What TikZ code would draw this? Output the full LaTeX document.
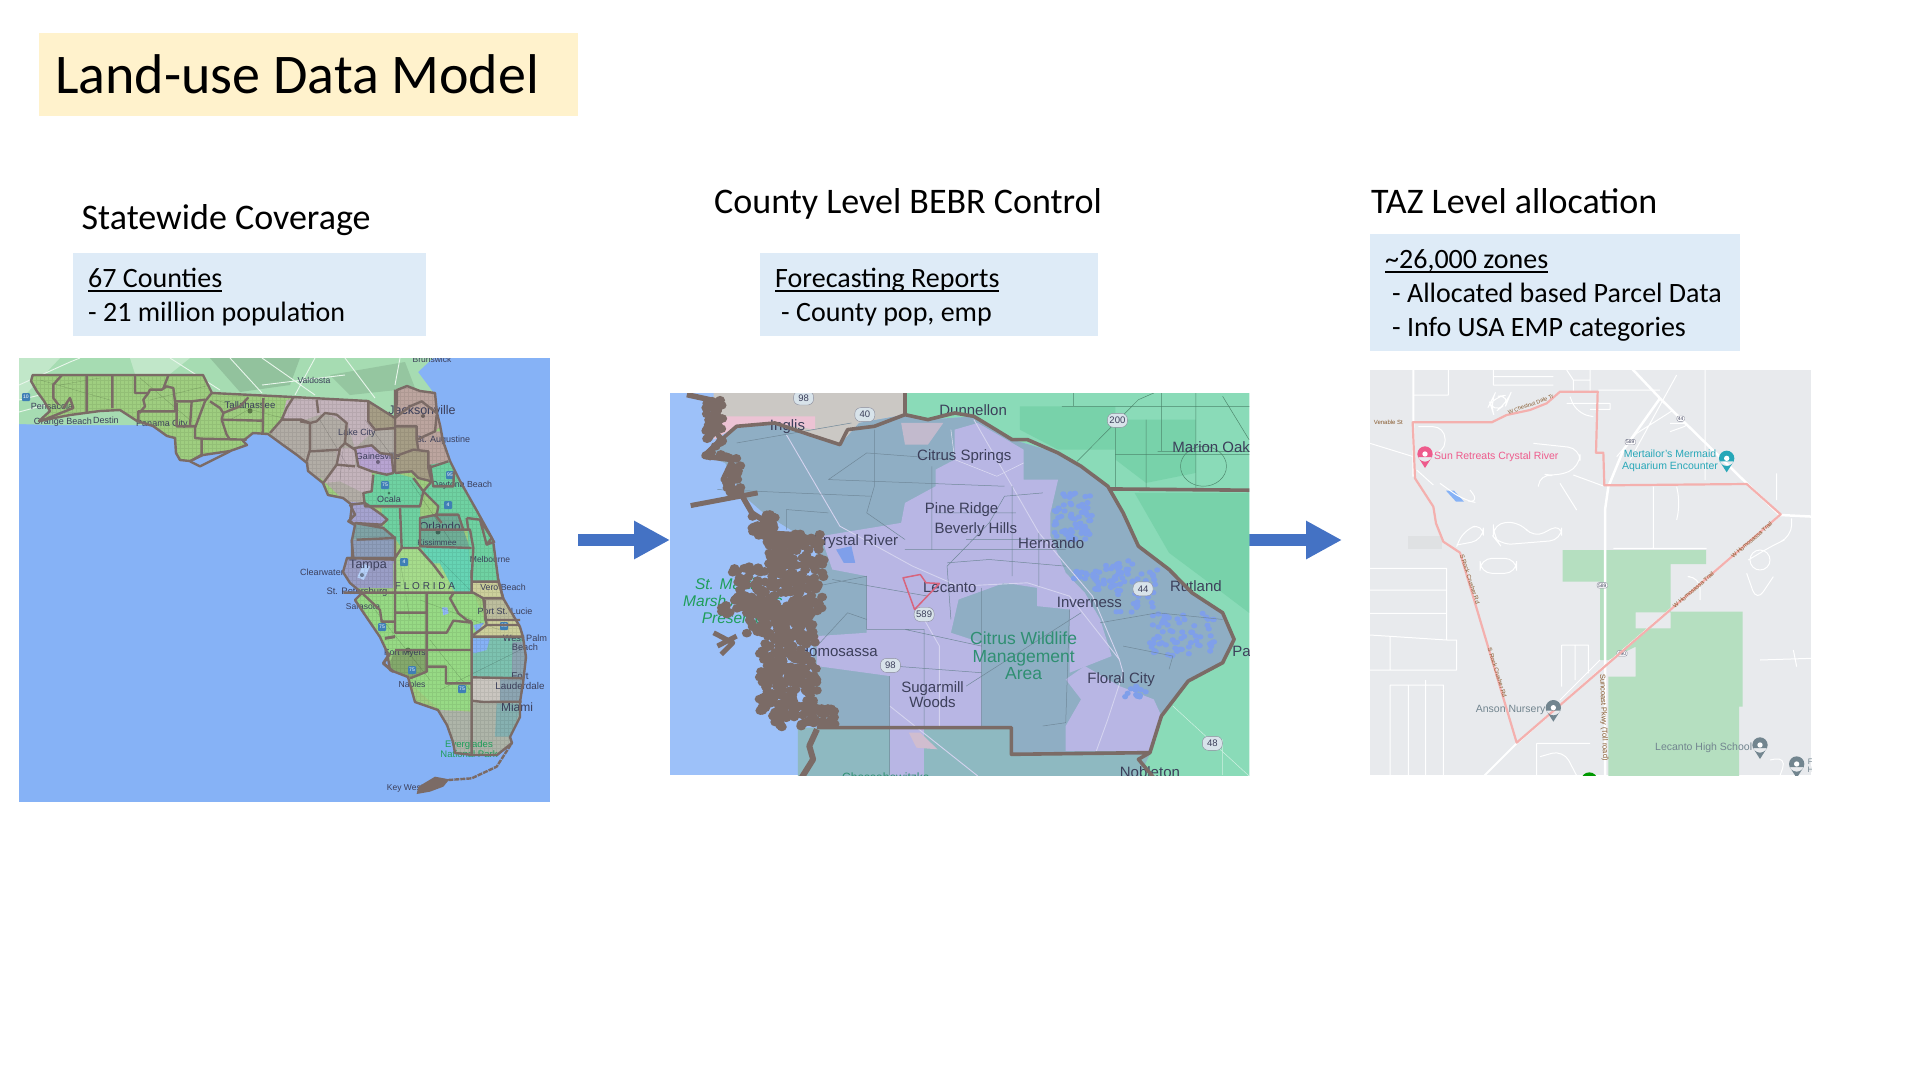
\documentclass[tikz,border=0pt]{standalone}
\usepackage{fontspec}
\setmainfont{Carlito}
\setsansfont{Liberation Sans}
\usepackage{xcolor}
\usepackage{tikz}
\usetikzlibrary{calc,arrows.meta,positioning}
\definecolor{titlebg}{HTML}{FFF2CC}
\definecolor{infobg}{HTML}{DEEBF7}
\definecolor{arrowblue}{HTML}{4472C4}
\definecolor{seablue}{HTML}{86B2F6}
\definecolor{seablueb}{HTML}{9DC1F9}
\definecolor{borderbrown}{HTML}{7B6B66}
\definecolor{gagreen}{HTML}{A6DCB2}
\definecolor{panhandle}{HTML}{9FCE80}
\definecolor{swgreen}{HTML}{97DA85}
\definecolor{polkgreen}{HTML}{A6DC8C}
\definecolor{ncgrey}{HTML}{B2ADA6}
\definecolor{ncpink}{HTML}{C4B4BC}
\definecolor{nebrown}{HTML}{A69E86}
\definecolor{nepink}{HTML}{BCA59F}
\definecolor{gainlav}{HTML}{B8A4D2}
\definecolor{midteal}{HTML}{6FD2A2}
\definecolor{osceteal}{HTML}{66D4B4}
\definecolor{orlteal}{HTML}{6FAE97}
\definecolor{citlav}{HTML}{A5A3CF}
\definecolor{herteal}{HTML}{7FA3A6}
\definecolor{pasblue}{HTML}{8E9EBB}
\definecolor{tamplav}{HTML}{9A9EC6}
\definecolor{lucolive}{HTML}{BDBE9E}
\definecolor{marolive}{HTML}{CDD09C}
\definecolor{palmteal}{HTML}{7DC2B0}
\definecolor{urbanblue}{HTML}{8CA5B2}
\definecolor{browgrey}{HTML}{CAC6C0}
\definecolor{dadegrey}{HTML}{AEB5A9}
\definecolor{leegreen}{HTML}{84A96C}
\definecolor{shieldblue}{HTML}{3F7FB5}
\definecolor{ctygreen}{HTML}{8ADBB8}
\definecolor{ctygreenb}{HTML}{78D2AA}
\definecolor{ctyteal}{HTML}{8FAEC4}
\definecolor{ctylav}{HTML}{B8B6E4}
\definecolor{ctypool}{HTML}{7F9FEA}
\definecolor{ctypink}{HTML}{ECC3D4}
\definecolor{ctygrey}{HTML}{CBC8C4}
\definecolor{wildgreen}{HTML}{2F8F72}
\definecolor{marshgreen}{HTML}{1F9E5A}
\definecolor{tazgrey}{HTML}{E8EAED}
\definecolor{tazgreen}{HTML}{B5DFC0}
\definecolor{tazred}{HTML}{F4B0AE}
\definecolor{tazpink}{HTML}{EE5B8C}
\definecolor{tazteal}{HTML}{27A7B8}
\definecolor{tazslate}{HTML}{72858F}
\definecolor{labdark}{HTML}{3C3F5A}
\newcommand{\ultext}[1]{\setbox0=\hbox{#1}\rlap{\rule[-4.5pt]{\wd0}{1.8pt}}\box0}
\newcommand{\mappin}[3]{%
  \fill[#3] (#1,#2) circle (23) (#1-21,#2+9) -- (#1,#2+42) -- (#1+21,#2+9) -- cycle;
  \fill[white] (#1,#2) circle (8);}
\def\flcoast{(32.7,375) -- (31,381) -- (36.7,391) -- (44,401) -- (50,411) -- (39,421) -- (70,415) -- (100,411)
  -- (120,410) -- (137,421) -- (153,426) -- (167,436) -- (175,438) -- (176,453) -- (180,460) -- (190,461)
  -- (203,455) -- (230,451) -- (247,445) -- (243,441) -- (253,433) -- (268,434) -- (283,445) -- (297,455)
  -- (307,463) -- (308,471) -- (323,483) -- (328,495) -- (343,498) -- (352,505) -- (350,521) -- (355,525)
  -- (352,540) -- (352,558) -- (347,558) -- (343,572) -- (350,583) -- (362,593) -- (355,600) -- (363,612)
  -- (380,637) -- (387,652) -- (390,670) -- (408,677) -- (415,702) -- (438,710) -- (447,725) -- (453,742)
  -- (455,753) -- (473,755) -- (497,755) -- (512,743) -- (510,737) -- (520,717) -- (520,702) -- (523,683)
  -- (526,657) -- (523,637) -- (520,627) -- (503,598) -- (498,578) -- (493,540) -- (477,511) -- (460,481)
  -- (450,461) -- (443,441) -- (440,425) -- (437,413) -- (435,393) -- (420,391) -- (407,386) -- (397,390)
  -- (397,401) -- (395,418) -- (368,401) -- (293,397) -- (212,393) -- (203,375)}
\tikzset{
  titlebox/.style={fill=titlebg,anchor=north west,inner xsep=16pt,inner ysep=0pt,text width=507pt,minimum height=83pt,align=flush left,font=\fontsize{56}{60}\selectfont},
  heading/.style={anchor=base west,inner sep=0pt,font=\fontsize{36}{40}\selectfont},
  infobox/.style={fill=infobg,anchor=north west,inner xsep=15pt,inner ysep=0pt,align=flush left,font=\fontsize{28}{34}\selectfont},
  panel/.style={anchor=north west,inner sep=0pt},
  blockarrow/.style={-{Triangle[length=36pt,width=36pt]},line width=12pt,arrowblue},
  county/.style={draw=borderbrown,line width=2.4pt,line join=round},
  crop/.style={shift={(#1)},scale=1/3},
  lab/.style={font=\sffamily\fontsize{#1}{#1}\selectfont,inner sep=0pt,text=labdark,align=center},
  shield/.style={fill=shieldblue,text=white,font=\sffamily\fontsize{5}{5}\selectfont,inner sep=1pt,minimum width=8pt,minimum height=8pt,rounded corners=1pt},
  hwshield/.style={draw=labdark!60,fill=white!65!ctyteal,rounded corners=6pt,font=\sffamily\fontsize{9.5}{9.5}\selectfont,text=labdark,inner sep=1pt,minimum width=20pt,minimum height=14pt},
  tazshield/.style={draw=labdark!60,fill=white,rounded corners=2pt,font=\sffamily\fontsize{5}{5}\selectfont,text=labdark,inner sep=1pt},
  tazroad/.style={draw=white,line width=#1,line join=round},
  tazroad/.default=1pt,
  ctyroad/.style={draw=#1,line width=.5pt},
  ctyroad/.default=ctyteal!78!black
}
\newcommand{\topline}{\rule{0pt}{34pt}}
\newcommand{\botline}[1]{\rule[-#1pt]{0pt}{#1pt}}
\begin{document}
\begin{tikzpicture}[x=1pt,y=-1pt]
\useasboundingbox (0,0) rectangle (1920,1080);
\node[titlebox] (title) at (39,33) {Land-use Data Model};
\node[heading] (statehead) at (81.5,229) {Statewide Coverage};
\node[heading] (countyhead) at (714,213) {County Level BEBR Control};
\node[heading] (tazhead) at (1371,213) {TAZ Level allocation};
\node[infobox,text width=323pt] (stateinfo) at (73,253) {\topline\ultext{67 Counties}\\- 21 million population\botline{15}};
\node[infobox,text width=308pt] (countyinfo) at (760,253) {\topline\ultext{Forecasting Reports}\\\hspace*{6pt}- County pop, emp\botline{15}};
\node[infobox,text width=340pt] (tazinfo) at (1370,234) {\topline\ultext{\textasciitilde 26,000 zones}\\\hspace*{7pt}- Allocated based Parcel Data\\\hspace*{7pt}- Info USA EMP categories\botline{15}};
\node[panel,fill=seablue,minimum width=531pt,minimum height=444pt] (statemap) at (19,358) {};
\node[panel,fill=seablueb,minimum width=579pt,minimum height=382pt] (countymap) at (670,393) {};
\node[panel,fill=tazgrey,minimum width=441pt,minimum height=405pt] (tazmap) at (1370,370) {};
\coordinate (arrowa) at (578,540);
\coordinate (arrowb) at (1342,540);
\draw[blockarrow] (arrowa) -- (countymap.west|-arrowa);
\draw[blockarrow] (countymap.east|-arrowb) -- (arrowb);

\begin{scope}
\clip (statemap.north west) rectangle (statemap.south east);
\fill[gagreen] (19,358) -- (433,358) -- (418,372) -- (433,392) -- (395,425) -- (50,425) -- (19,424) -- cycle;
\fill[gagreen!88!black] (210,358) -- (300,358) -- (290,385) -- (240,392) -- cycle;
\fill[gagreen!90!black] (330,375) -- (405,362) -- (415,388) -- (350,395) -- cycle;
\fill[gagreen!70!white] (19,358) -- (60,358) -- (25,395) -- (19,400) -- cycle;
\fill[gagreen!70!white] (130,358) -- (190,358) -- (170,374) -- (135,374) -- cycle;
\draw[white!75!gagreen,line width=.9pt] (19,385) -- (70,362) -- (80,358) (19,412) -- (45,405) (170,358) -- (220,390) (230,358) -- (262,393) (262,358) -- (315,395) (315,358) -- (295,395) (345,358) -- (375,398) (400,358) -- (395,385) (19,400) -- (40,395) (262,385) -- (345,375);
\fill[panhandle] \flcoast -- cycle;
\clip \flcoast -- cycle;
\begin{scope}[crop={20,358}]
\fill[ncgrey] (820,110) -- (900,110) -- (900,400) -- (860,340) -- (750,225) -- (785,185) -- cycle;
\fill[ncpink] (800,125) -- (900,125) -- (900,185) -- (785,185) -- cycle;
\end{scope}
\begin{scope}[crop={300,358}]
\fill[ncgrey] (0,115) -- (205,130) -- (285,180) -- (285,345) -- (215,340) -- (215,400) -- (190,405) -- (195,445) -- (150,445) -- (0,300) -- cycle;
\fill[ncpink] (0,120) -- (205,130) -- (205,190) -- (225,215) -- (165,270) -- (140,195) -- (75,165) -- (0,190) -- cycle;
\fill[ncpink] (110,270) -- (165,270) -- (165,325) -- (215,340) -- (215,400) -- (190,405) -- (120,370) -- (70,375) -- (110,320) -- cycle;
\fill[nebrown] (205,130) -- (285,180) -- (285,215) -- (225,215) -- (205,190) -- cycle;
\fill[nepink] (285,80) -- (410,100) -- (425,200) -- (405,220) -- (350,245) -- (350,205) -- (285,205) -- cycle;
\fill[nebrown] (285,205) -- (350,205) -- (350,245) -- (355,275) -- (385,280) -- (385,330) -- (395,370) -- (355,360) -- (335,340) -- (285,345) -- cycle;
\fill[nepink] (350,245) -- (405,220) -- (430,220) -- (455,310) -- (385,330) -- (385,280) -- (355,275) -- cycle;
\fill[gainlav] (165,270) -- (215,262) -- (240,285) -- (275,290) -- (280,345) -- (260,350) -- (215,340) -- (175,325) -- cycle;
\fill[midteal] (220,350) -- (285,345) -- (340,360) -- (370,400) -- (360,445) -- (195,445) -- (190,405) -- (215,400) -- cycle;
\fill[midteal] (390,320) -- (450,310) -- (490,370) -- (550,480) -- (490,515) -- (475,470) -- (405,470) -- (360,480) -- (410,470) -- (415,445) -- (370,400) -- (395,370) -- cycle;
\fill[midteal] (245,450) -- (360,445) -- (360,565) -- (305,570) -- (285,540) -- (250,510) -- (262,485) -- (245,470) -- cycle;
\fill[citlav] (130,430) -- (195,435) -- (245,470) -- (262,485) -- (245,500) -- (130,495) -- cycle;
\fill[herteal] (130,495) -- (245,500) -- (285,540) -- (130,545) -- cycle;
\fill[pasblue] (130,545) -- (285,540) -- (285,600) -- (130,600) -- cycle;
\fill[tamplav] (120,600) -- (285,605) -- (285,690) -- (120,690) -- cycle;
\fill[orlteal] (360,480) -- (405,470) -- (475,470) -- (490,515) -- (510,570) -- (360,565) -- cycle;
\fill[osceteal] (360,565) -- (515,570) -- (515,690) -- (430,660) -- (400,620) -- cycle;
\fill[midteal] (500,480) -- (550,480) -- (620,660) -- (515,690) -- cycle;
\fill[polkgreen] (285,600) -- (305,570) -- (355,570) -- (400,620) -- (430,670) -- (285,690) -- cycle;
\end{scope}
\begin{scope}[crop={320,570}]
\fill[polkgreen] (220,-20) -- (360,-20) -- (405,68) -- (220,68) -- cycle;
\fill[osceteal] (360,-20) -- (455,-20) -- (455,68) -- (405,68) -- cycle;
\fill[midteal] (455,-20) -- (525,-20) -- (535,35) -- (455,35) -- cycle;
\fill[marolive] (455,35) -- (535,35) -- (560,85) -- (490,85) -- (455,68) -- cycle;
\fill[swgreen] (70,68) -- (460,68) -- (500,165) -- (455,200) -- (455,420) -- (360,420) -- (260,330) -- (120,100) -- cycle;
\fill[leegreen] (225,240) -- (320,240) -- (320,305) -- (270,325) -- (200,300) -- cycle;
\fill[lucolive] (490,85) -- (560,85) -- (590,150) -- (500,150) -- cycle;
\fill[marolive] (500,150) -- (590,150) -- (620,200) -- (460,198) -- cycle;
\fill[palmteal] (455,200) -- (630,200) -- (630,325) -- (455,322) -- cycle;
\fill[urbanblue] (578,215) -- (630,215) -- (630,325) -- (575,325) -- cycle;
\fill[browgrey] (455,322) -- (630,325) -- (630,395) -- (455,395) -- cycle;
\fill[urbanblue] (540,325) -- (630,325) -- (630,395) -- (540,395) -- cycle;
\fill[dadegrey] (360,420) -- (455,425) -- (455,395) -- (620,395) -- (620,560) -- (380,560) -- cycle;
\fill[urbanblue!60!palmteal] (530,400) -- (610,400) -- (570,500) -- (525,500) -- cycle;
\fill[seablue] (455,205) -- (510,205) -- (500,240) -- (462,250) -- (455,240) -- cycle;
\fill[seablue] (460,165) -- (492,158) -- (470,190) -- cycle;
\fill[seablue!90!white] (366,112) -- (382,112) -- (386,130) -- (370,136) -- cycle;
\fill[white!40!seablue] (130,-20) -- (150,-10) -- (132,30) -- (112,22) -- cycle;
\end{scope}
\draw[step=4pt,black,opacity=.07,line width=.3pt] (19,358) grid (550,802);
\draw[black,opacity=.22,line width=.3pt] (40,380) -- (110,400) (140,378) -- (190,420) (215,400) -- (290,420) (320,420) -- (350,470) (365,420) -- (395,460) (410,480) -- (450,540) (440,560) -- (480,600) (375,610) -- (430,680) (420,600) -- (500,630) (440,690) -- (520,650) (60,385) -- (100,378) (150,400) -- (210,385) (230,420) -- (262,402) (340,480) -- (345,430) (400,560) -- (410,620) (430,640) -- (470,690);
\fill[black,opacity=.4] (250,411) circle (2.5) (423,416) circle (2) (378,462) circle (2) (438,532) circle (2.5) (389,493) circle (1.5) (408,650) circle (2.5) (362,575) circle (2);
\end{scope}

\begin{scope}
\clip (statemap.north west) rectangle (statemap.south east);
\foreach \nm/\px/\py/\sz/\txt in {labbrun/432/359/8.5/Brunswick,labvald/314/380/8.6/Valdosta,labpens/52/406/9/Pensacola,laborng/63/422/9/Orange Beach,labdest/106/420/9/Destin,labpana/162/424/9/Panama City,labtall/250/405/9.6/Tallahassee,labjack/422/410/12.5/Jacksonville,labaug/443/440/9/St. Augustine,lablake/357/433/9/Lake City,labgain/378/456/9/Gainesville,labdayt/462/485/8.8/Daytona Beach,labocal/389/499/9/Ocala,laborl/440/526/11.5/Orlando,labkiss/437/543/8/Kissimmee,labmelb/490/559/8.5/Melbourne,labtamp/368/565/12.5/Tampa,labclea/322/572/9/Clearwater,labpete/357/592/9.4/St. Petersburg,labsara/363/607/8.5/Sarasota,labflor/425/586/10/F L O R I D A,labvero/503/587/8.8/Vero Beach,labport/505/611/9/Port St. Lucie,labwest/525/643/9.2/{West Palm\\Beach},labmyer/405/653/8.7/Fort Myers,labnapl/412/685/8.6/Naples,labfort/520/681/9.8/{Fort\\Lauderdale},labmiam/517/707/12/Miami,labkeyw/405/788/8.5/Key West}
  \node[lab=\sz] (\nm) at (\px,\py) {\txt};
\node[lab=9.5,text=marshgreen] (labever) at (469,749) {Everglades\\National Park};
\foreach \nm/\px/\py/\txt in {shnw/26/397/10,shoc/385/485/75,shda/450/475/95,shpk/404/562/4,shsa/382/627/75,shfm/412/670/75,shal/462/689/75,shsl/504/626/95,shvo/448/505/4}
  \node[shield] (\nm) at (\px,\py) {\txt};
\draw[county] \flcoast -- cycle;
\begin{scope}[crop={20,358}]
\draw[county] (125,52) -- (100,80) -- (100,120) -- (115,140) (200,50) -- (200,165) (277,50) -- (277,150);
\draw[county] (345,50) -- (345,105) -- (385,105) -- (390,95) -- (425,95) -- (440,85) -- (460,90) -- (465,130) -- (465,160) -- (355,160) -- (355,190);
\draw[county] (385,105) -- (370,125) -- (375,145) -- (358,165) (445,52) -- (430,92) (465,130) -- (515,130) -- (555,125) (470,135) -- (470,205) -- (525,205);
\draw[county] (515,130) -- (510,205) (575,105) -- (555,130) -- (540,170) -- (525,210) -- (525,240) -- (545,242) -- (680,245) (545,242) -- (545,290) -- (520,305);
\draw[county] (570,130) -- (600,150) -- (610,165) -- (605,185) -- (725,188) (605,185) -- (620,230) -- (630,245) (685,118) -- (660,145) -- (610,165) (730,120) -- (728,225);
\draw[county] (820,118) -- (800,150) -- (785,185) -- (845,185) -- (870,195) -- (870,275) (785,185) -- (750,225);
\draw[county] (510,310) -- (540,325) -- (630,280) (130,150) -- (150,120) -- (160,150) -- (60,190);
\end{scope}
\begin{scope}[crop={300,358}]
\draw[county] (205,130) -- (205,190) -- (225,215) -- (285,210) (285,95) -- (285,345) (285,180) -- (330,145) -- (365,130) -- (410,165) (285,205) -- (350,205) -- (350,245) -- (405,220) -- (410,170);
\draw[county] (285,295) -- (340,275) -- (385,280) -- (385,330) (350,245) -- (355,275) (285,345) -- (335,340) -- (355,360) -- (395,370) -- (385,330) -- (445,310) (390,320) -- (400,385) -- (460,385) -- (462,340);
\draw[county] (370,400) -- (415,445) -- (410,470) -- (360,480) -- (360,565) -- (515,570) (370,400) -- (395,370) (220,350) -- (215,400) -- (190,405) -- (195,445) -- (360,445) -- (370,400) -- (340,360);
\draw[county] (165,270) -- (215,262) -- (240,285) -- (275,290) -- (280,345) -- (260,350) -- (215,340) -- (175,325) -- cycle;
\draw[county] (0,190) -- (30,195) -- (30,275) -- (20,310) (50,125) -- (55,165) (30,195) -- (50,190) -- (75,165) -- (110,170) -- (140,195) -- (135,255) -- (120,270) -- (110,320) -- (165,325) (30,280) -- (120,275) (135,255) -- (165,275) (110,320) -- (70,375);
\draw[county] (150,440) -- (195,435) -- (245,470) -- (262,485) -- (245,500) -- (165,495) -- (250,510) -- (285,540) -- (170,545) (285,535) -- (285,680) (155,545) -- (160,600) -- (285,600) (140,600) -- (285,605) (300,450) -- (305,570) -- (355,570) -- (400,620) -- (430,660) (285,600) -- (305,570);
\draw[county] (360,515) -- (490,515) (405,470) -- (475,470) -- (490,515) (405,470) -- (425,495) (490,515) -- (510,515) -- (520,570) -- (515,660) (500,480) -- (540,485) -- (575,540) -- (560,560) -- (585,550) (500,480) -- (505,515) (540,485) -- (560,560);
\draw[county] (150,440) -- (165,470) -- (145,490) -- (162,500);
\end{scope}
\begin{scope}[crop={320,570}]
\draw[county] (70,68) -- (460,68) -- (490,85) -- (550,85) (225,0) -- (225,190) (320,68) -- (320,305) -- (270,325) (225,128) -- (320,128) (225,188) -- (380,188) -- (400,152) -- (455,158);
\draw[county] (225,240) -- (455,240) (320,290) -- (378,290) -- (378,340) -- (455,340) (400,70) -- (390,85) -- (415,130) -- (440,150) -- (455,155) (455,155) -- (455,555) (455,200) -- (612,200) (460,195) -- (500,165) -- (600,165) (490,85) -- (500,165);
\draw[county] (455,0) -- (455,68) (455,35) -- (535,35) -- (550,85) (455,322) -- (608,325) (455,392) -- (490,396) -- (605,395) (125,68) -- (180,120) -- (185,155) -- (225,155) (495,90) -- (495,150) -- (600,150);
\draw[county,line width=3pt] (195,205) -- (225,200) (210,250) -- (190,280) -- (220,305);
\draw[county,dash pattern=on 5pt off 1pt] (385,630) -- (455,625) -- (530,590) -- (575,520);
\fill[borderbrown] (290,672) -- (295,650) -- (345,620) -- (388,628) -- (370,650) -- (330,665) -- cycle;
\end{scope}
\end{scope}

\begin{scope}
\clip (countymap.north west) rectangle (countymap.south east);
\begin{scope}[shift={(660.05,379.68)},xscale=.3827,yscale=.333]
\fill[ctygrey] (140,30) -- (640,30) -- (640,105) -- (520,130) -- (470,195) -- (300,130) -- (200,140) -- (140,180) -- cycle;
\fill[ctypink] (165,110) -- (405,110) -- (405,150) -- (300,130) -- (200,140) -- (140,180) -- cycle;
\fill[ctygreen] (640,30) -- (1545,30) -- (1545,1195) -- (1250,1195) -- (1280,1120) -- (1310,1010) -- (1380,905) -- (1470,850) -- (1500,780) -- (1470,700) -- (1390,640) -- (1330,570) -- (1250,500) -- (1210,400) -- (1170,320) -- (1040,220) -- (920,180) -- (820,110) -- (700,120) -- (640,105) -- cycle;
\fill[ctygreenb] (940,80) -- (1190,80) -- (1190,210) -- (1040,210) -- (940,150) -- cycle;
\fill[ctygreenb] (1190,120) -- (1400,120) -- (1400,280) -- (1270,310) -- (1190,240) -- cycle;
\fill[ctygreenb] (1240,340) -- (1539,340) -- (1539,700) -- (1470,640) -- (1330,520) -- cycle;
\draw[ctyroad=ctygreenb!65!black] (1050,80) -- (1540,80) (1190,120) -- (1190,325) (1270,120) -- (1270,325) (1400,40) -- (1400,325) (1300,215) -- (1540,215) (1190,225) -- (1540,225) (1080,40) -- (1080,80) (1310,40) -- (1310,215) (1470,50) -- (1539,180) (1090,245) -- (1250,60) -- (1290,40);
\draw[ctyroad=ctygreenb!65!black] (1420,260) circle (60);
\draw[ctyroad=white!60!ctygreen] (1340,980) -- (1539,1190) (1470,1080) -- (1470,1187);
\fill[ctyteal] (110,225) -- (200,140) -- (300,130) -- (470,195) -- (520,130) -- (640,105) -- (700,120) -- (820,110) -- (920,180) -- (1040,220) -- (1170,320) -- (1210,400) -- (1250,500) -- (1330,570) -- (1390,640) -- (1470,700) -- (1500,780) -- (1470,850) -- (1380,905) -- (1310,1010) -- (1280,1120) -- (920,1125) -- (920,1045) -- (410,1045) -- (400,900) -- (400,700) -- (410,500) -- (270,400) -- (210,340) -- (170,250) -- cycle;
\fill[ctylav] (770,150) -- (830,130) -- (950,210) -- (950,300) -- (1040,300) -- (1020,400) -- (1020,470) -- (1060,580) -- (1110,640) -- (1150,720) -- (1180,830) -- (1070,880) -- (1070,690) -- (985,680) -- (985,625) -- (900,610) -- (780,660) -- (760,760) -- (840,790) -- (840,1040) -- (600,1040) -- (600,890) -- (410,860) -- (410,770) -- (540,760) -- (540,590) -- (450,570) -- (420,470) -- (630,430) -- (640,370) -- (720,320) -- (720,270) -- (770,240) -- cycle;
\fill[ctylav] (1060,900) -- (1110,860) -- (1200,920) -- (1290,960) -- (1310,1010) -- (1280,1115) -- (1060,1115) -- (1060,1040) -- (1100,960) -- cycle;
\fill[ctypink!55!ctyteal] (630,130) -- (740,130) -- (700,195) -- (640,195) -- cycle;
\fill[ctygreen!25!ctyteal] (360,1045) -- (920,1045) -- (920,1125) -- (1280,1125) -- (1250,1195) -- (360,1195) -- cycle;
\fill[ctylav] (600,1045) -- (690,1045) -- (690,1195) -- (600,1195) -- cycle;
\fill[ctypink!70!ctyteal] (650,1060) -- (680,1060) -- (725,1110) -- (670,1105) -- cycle;
\fill[ctypool] (460,510) -- (500,500) -- (510,550) -- (480,550) -- cycle;
\pgfmathsetseed{23}
\foreach \xa/\xb/\ya/\yb/\cnt in {1030/1130/340/480/60,1060/1130/450/480/15,1130/1300/540/640/60,1280/1450/700/830/70,1215/1270/920/955/14,1060/1120/570/600/10,1190/1290/640/700/14}
  \foreach \i in {1,...,\cnt}{
    \pgfmathsetmacro\bx{\xa+rnd*(\xb-\xa)}
    \pgfmathsetmacro\by{\ya+rnd*(\yb-\ya)}
    \fill[ctypool] (\bx,\by) circle (8);
  }
\draw[ctyroad=white!40!ctylav,line width=.9pt] (330,165) -- (470,440) -- (660,560) -- (780,620) -- (960,610) -- (1070,650) -- (1200,840) -- (1210,880) -- (1170,1020) -- (1140,1115);
\draw[ctyroad=white!40!ctylav,line width=.9pt] (820,120) -- (920,320) -- (990,460) -- (1130,650) -- (1200,840) (690,720) -- (730,800) -- (730,1045) (600,980) -- (830,1190);
\draw[ctyroad] (200,190) -- (500,130) (800,920) -- (1100,700) (440,300) -- (900,320) (440,300) -- (540,220) -- (770,240) (560,150) -- (560,320) -- (540,400) -- (640,480) (710,260) -- (710,510) (640,510) -- (1060,510) (150,330) -- (550,350) (450,600) -- (700,650) (540,590) -- (540,750) -- (690,750) -- (690,1040) (1070,690) -- (1060,1030) -- (1000,1040) (750,550) -- (860,540) -- (1060,560) (840,625) -- (840,1045) (640,750) -- (840,800) (1150,730) -- (1300,700) -- (1470,720) (1210,800) -- (1340,830) -- (1330,870) (1000,340) -- (900,350) -- (860,430) -- (750,560) -- (760,720) (720,400) -- (930,400) (800,480) -- (1060,480) (920,320) -- (920,590) (990,460) -- (990,620) (330,450) -- (330,390) -- (440,400) (410,620) -- (540,590) (410,800) -- (490,700) -- (540,720) (600,890) -- (600,1187) (610,860) -- (840,880);
\draw[ctyroad=white!55!ctylav] (760,150) -- (770,240) -- (880,290) -- (950,250);
\foreach \nm/\px/\py/\txt in {cityingl/333/142/Inglis,citydunn/818/90/Dunnellon,citymari/1450/202/Marion Oaks,citysprg/795/232/Citrus Springs,cityridg/788/390/Pine Ridge,citybev/825/449/Beverly Hills,cityhern/1022/491/Hernando,citycrys/510/485/Crystal River,cityleca/757/623/Lecanto,cityinvs/1122/668/Inverness,cityrutl/1400/620/Rutland,citypana/1530/815/Pan,cityhomo/465/815/Homosassa,citysuga/712/945/{Sugarmill\\Woods},cityflor/1205/900/Floral City,citynobl/1280/1180/Nobleton}
  \node[lab=15] (\nm) at (\px,\py) {\txt};
\node[lab=17.5,text=wildgreen] (labwild) at (950,830) {Citrus Wildlife\\Management\\Area};
\node[lab=15,text=marshgreen,font=\sffamily\itshape\fontsize{15.5}{17}\selectfont] (labmarsh) at (190,665) {St. Martins\\Marsh Aquatic\\Preserve};
\node[lab=12,text=wildgreen] (labchas) at (590,1194) {Chassahowitzka};
\foreach \nm/\px/\py/\txt in {shlevy/375/55/98,shyank/535/105/40,shmari/1195/122/200,shinvs/1262/628/44,shleca/690/705/589,shhomo/602/858/98,shnobl/1443/1092/48}
  \node[hwshield] (\nm) at (\px,\py) {\txt};
\pgfmathsetseed{7}
\foreach \xa/\xb/\ya/\yb/\cnt in {280/430/470/560/70,190/430/560/700/170,160/400/660/710/40,225/400/700/770/70,260/410/770/1000/210,290/470/980/1045/50,120/165/50/230/45,170/210/230/340/26,240/300/400/470/26,300/425/460/500/26}
  \foreach \i in {1,...,\cnt}{
    \pgfmathsetmacro\bx{\xa+rnd*(\xb-\xa)}
    \pgfmathsetmacro\by{\ya+rnd*(\yb-\ya)}
    \fill[borderbrown] (\bx,\by) circle (13);
  }
\draw[borderbrown,line join=round,line width=5.5pt] (70,45) -- (130,60) -- (155,90) -- (130,130) -- (160,180) -- (115,230) -- (190,240) -- (165,300) -- (210,340) -- (240,400) -- (280,430) -- (270,460) -- (350,465) -- (425,490);
\draw[borderbrown,line join=round,line width=5pt] (140,760) -- (190,790) -- (160,825) (200,770) -- (150,800);
\draw[borderbrown,line width=5pt] (80,378) -- (255,340);
\draw[borderbrown,line join=round,line width=6pt] (410,1050) -- (390,1100) -- (400,1140) -- (370,1195);
\draw[borderbrown,line join=round,line width=3.6pt] (640,30) -- (640,105) (115,225) -- (200,140) -- (300,130) -- (390,165) -- (470,195) -- (490,150) -- (560,140) -- (640,105) -- (700,120) -- (770,100) -- (820,110) -- (920,180) -- (960,180) -- (1040,220) -- (1100,260) -- (1170,320) -- (1210,400) -- (1250,500) -- (1330,570) -- (1390,640) -- (1470,700) -- (1500,780) -- (1470,850) -- (1380,905) -- (1310,1010) -- (1280,1120) -- (1250,1140) -- (1290,1195) (1170,328) -- (1545,332) (410,1045) -- (918,1045) -- (918,1125) -- (1280,1120);
\draw[red!45!ctylav,line join=round,line width=1.5pt] (635,595) -- (680,585) -- (695,610) -- (730,612) -- (665,690) -- cycle;
\end{scope}
\end{scope}

\begin{scope}
\clip (tazmap.north west) rectangle (tazmap.south east);
\begin{scope}[crop={1360,360}]
\fill[tazgrey!96!black] (145,528) rectangle (245,568);
\fill[tazgreen] (608,570) -- (1038,570) -- (1038,612) -- (932,612) -- (932,757) -- (827,757) -- (827,805) -- (932,805) -- (932,755) -- (1148,755) -- (1148,1040) -- (1137,1040) -- (1137,1260) -- (745,1260) -- (745,950) -- (827,950) -- (827,860) -- (745,900) -- (720,900) -- (720,665) -- (608,665) -- cycle;
\fill[seablue] (258,392) -- (282,392) -- (312,425) -- (288,425) -- cycle;
\draw[tazroad=2.5pt] (735,1260) -- (735,450) -- (745,380) -- (790,270) -- (900,115) (815,25) -- (900,115) -- (1160,370) -- (1260,465) -- (1360,470);
\draw[tazroad=2pt] (360,1260) -- (470,1150) -- (720,930) -- (1260,465) (160,25) -- (160,350);
\draw[tazroad] (30,250) -- (160,290) (715,90) -- (900,90) (160,105) -- (265,105) (265,30) -- (265,105) (880,380) -- (880,565) (760,565) -- (1040,565) (30,625) -- (260,625) -- (260,840) -- (30,825) (30,690) -- (260,690) (30,760) -- (260,760) (90,830) -- (90,930) (30,930) -- (290,930) -- (290,840) -- (260,840) (90,975) -- (250,975) -- (250,1260) (90,975) -- (90,1260) (145,975) -- (145,1260) (197,960) -- (197,1260) (605,855) -- (685,855) -- (685,940) (605,855) -- (605,980) (645,855) -- (645,960) (600,1020) -- (720,900);
\draw[tazroad] (400,30) -- (400,75) -- (580,75) (400,50) -- (580,50) (620,30) -- (640,60) -- (690,60) (640,60) -- (640,95) (690,30) -- (690,95) (620,130) -- (750,130) -- (750,148) -- (690,148) (810,300) -- (950,45) (940,150) -- (830,220) -- (770,290);
\draw[tazroad,rounded corners=12pt] (400,110) -- (450,105) -- (440,130) -- (400,160) -- (390,130) -- cycle (630,110) -- (650,160) -- (700,170) (175,200) -- (255,200) -- (255,280) -- (175,280) (520,250) -- (660,265) -- (660,320) -- (590,350) -- (540,340) -- (535,380) (640,345) -- (730,378) (170,330) -- (220,375) (240,370) -- (310,420) -- (360,430) -- (330,390) (290,560) -- (310,510) -- (370,490) -- (370,540) -- (290,555) (400,490) -- (480,485) -- (520,535) -- (605,490) -- (605,540) -- (420,555) -- (400,530) -- cycle (360,595) -- (470,595) -- (470,640) -- (360,640) -- cycle (1165,600) -- (1240,555) -- (1295,530) -- (1295,475) (1200,600) circle (30) (1160,640) -- (1190,725) -- (1240,650) (950,480) -- (960,430) -- (950,380) (1250,340) -- (1250,420) (990,650) -- (1020,650) -- (1020,720) (930,190) -- (1000,190) -- (930,215) (1035,30) -- (1035,360) (1200,900) -- (1353,895) (1300,870) -- (1310,920) (600,370) -- (650,450) (1230,1200) -- (1280,1190) -- (1260,1247) (530,1150) -- (690,1150) (530,1150) -- (530,1247) (540,1190) -- (610,1170) -- (650,1247);
\foreach \nm/\px/\py/\txt in {shtfirst/962/176/44,shtsec/811/246/589,shtthi/727/676/589,shtfou/786/880/490}
  \node[tazshield] (\nm) at (\px,\py) {\txt};
\draw[tazred,line join=round,line width=2.2pt] (158,187) -- (395,187) -- (440,165) -- (510,150) -- (560,130) -- (600,95) -- (713,95) -- (708,278) -- (730,278) -- (733,376) -- (1160,372) -- (1262,463) -- (470,1148) -- (300,578) -- (250,545) -- (228,490) -- (220,440) -- (165,355) -- cycle;
\node[lab=6,text=brown!70!black] (labvena) at (85,186) {Venable St};
\node[lab=5.5,text=brown!70!black,rotate=20] (labdale) at (512,133) {W Chestnut Dale Tr};
\node[lab=6,text=brown!70!black,rotate=-72] (labrocka) at (330,657) {S Rock Crusher Rd};
\node[lab=6,text=brown!70!black,rotate=-73] (labrockb) at (412,938) {S Rock Crusher Rd};
\node[lab=6,text=brown!70!black,rotate=41] (labhoma) at (1000,690) {W Homosassa Trail};
\node[lab=6,text=brown!70!black,rotate=41] (labhomb) at (1175,540) {W Homosassa Trail};
\node[lab=7.5,text=brown!70!black,rotate=-88] (labtoll) at (731,1072) {Suncoast Pkwy (Toll road)};
\node[lab=10.5,text=tazpink,anchor=west] (labsun) at (222,291) {Sun Retreats Crystal River};
\node[lab=10.5,text=tazteal] (labmerm) at (930,302) {Mertailor's Mermaid\\[1pt]Aquarium Encounter};
\node[lab=10.5,text=tazslate,anchor=west] (labanso) at (347,1050) {Anson Nursery};
\node[lab=10.5,text=tazslate,anchor=west] (lablhs) at (885,1162) {Lecanto High School};
\node[lab=8,text=tazslate,anchor=west] (labfh) at (1342,1218) {F\\H};
\mappin{195}{282}{tazpink}
\mappin{1100}{295}{tazteal}
\mappin{580}{1043}{tazslate}
\mappin{1200}{1155}{tazslate}
\mappin{1310}{1212}{tazslate}
\fill[green!60!black] (688,1262) circle (25);
\end{scope}
\end{scope}
\end{tikzpicture}
\end{document}
